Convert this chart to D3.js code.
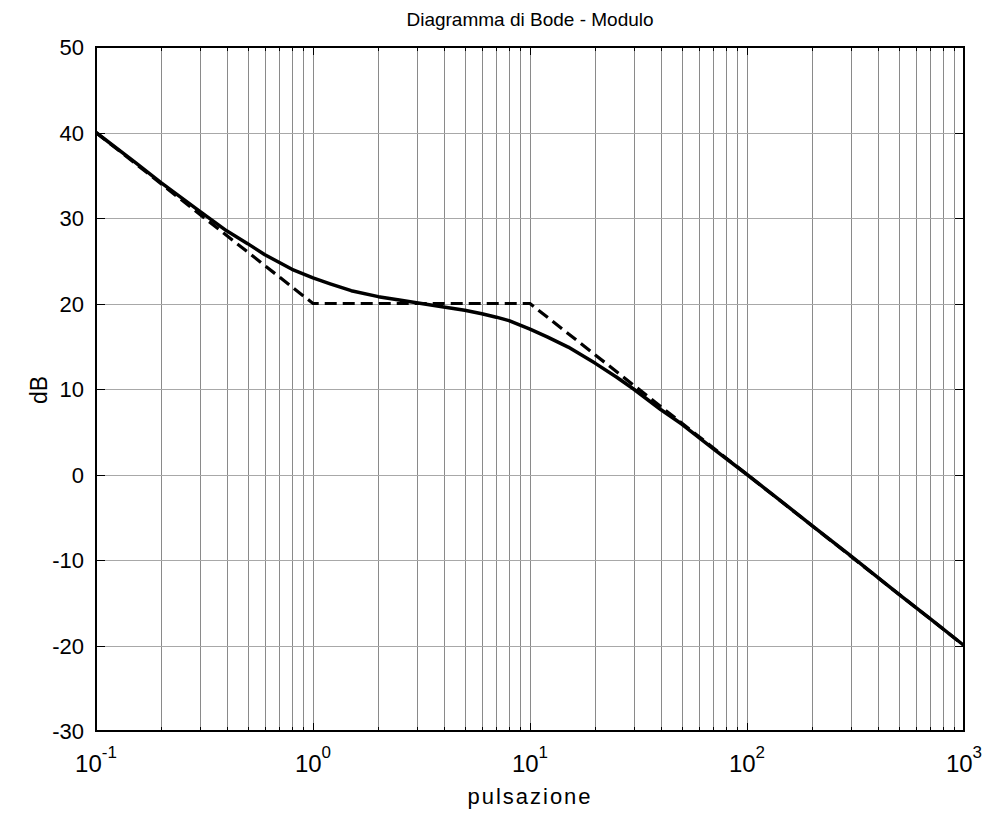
<!DOCTYPE html>
<html>
<head>
<meta charset="utf-8">
<script src="https://cdn.jsdelivr.net/npm/d3@7"></script>
<style>
  body { margin: 0; background: #fff; }
  text { font-family: "Liberation Sans", Arial, sans-serif; fill: #000; }
</style>
</head>
<body>
<svg width="986" height="816"></svg>
<script>
var svg = d3.select("svg");

// pulsazione (rad/s) and modulo (dB)
var omega = [0.1, 0.15, 0.2, 0.3, 0.4, 0.5, 0.6, 0.7, 0.8, 1, 1.2, 1.5, 2, 2.5, 3, 4, 5, 6, 7, 8, 10,
             12, 15, 20, 25, 30, 40, 50, 70, 100, 150, 200, 300, 500, 700, 1000];
var modulo = [40.0, 36.6, 34.1, 30.8, 28.5, 27.0, 25.7, 24.8, 24.0, 23.0, 22.3, 21.5, 20.8, 20.4, 20.1, 19.6, 19.2, 18.8, 18.4, 18.0, 17.0,
              16.1, 14.9, 13.0, 11.4, 10.0, 7.6, 5.9, 3.0, 0.0, -3.5, -6.0, -9.5, -14.0, -16.9, -20.0];

// diagramma asintotico
var asOmega = [0.1, 1, 10, 1000];
var asModulo = [40, 20, 20, -20];

var yTicks = [50, 40, 30, 20, 10, 0, -10, -20, -30];
var xDecades = [-1, 0, 1, 2, 3];

var pLeft = 96, pRight = 964, pTop = 47, pBottom = 731;

var x = d3.scaleLog().domain([0.1, 1000]).range([pLeft, pRight]);
var y = d3.scaleLinear().domain([-30, 50]).range([pBottom, pTop]);

// minor values 2..9 per decade
var minor = [];
xDecades.slice(0, -1).forEach(function(e) {
  for (var k = 2; k <= 9; k++) minor.push(k * Math.pow(10, e));
});
var majors = xDecades.map(function(e) { return Math.pow(10, e); });

var grid = svg.append("g").attr("shape-rendering", "crispEdges");

grid.selectAll(".vg").data(minor.concat(majors)).enter().append("line")
  .attr("x1", function(d) { return Math.round(x(d)) + 0.5; })
  .attr("x2", function(d) { return Math.round(x(d)) + 0.5; })
  .attr("y1", pTop).attr("y2", pBottom)
  .attr("stroke", "#8a8a8a").attr("stroke-width", 1);

grid.selectAll(".hg").data(yTicks).enter().append("line")
  .attr("x1", pLeft).attr("x2", pRight)
  .attr("y1", function(d) { return Math.round(y(d)) + 0.5; })
  .attr("y2", function(d) { return Math.round(y(d)) + 0.5; })
  .attr("stroke", "#a8a8a8").attr("stroke-width", 1);

// ticks
var ticks = svg.append("g").attr("stroke", "#000").attr("shape-rendering", "crispEdges");
ticks.selectAll(".mt").data(minor).enter().append("path")
  .attr("d", function(d) {
    var px = Math.round(x(d)) + 0.5;
    return "M" + px + "," + pTop + "v4M" + px + "," + pTop + "h4" +
           "M" + px + "," + pBottom + "v-4M" + px + "," + pBottom + "h4";
  })
  .attr("stroke-width", 1.5).attr("fill", "none");
ticks.selectAll(".Mt").data(majors).enter().append("path")
  .attr("d", function(d) {
    var px = Math.round(x(d)) + 0.5;
    return "M" + px + "," + pTop + "v8M" + px + "," + pBottom + "v-8";
  })
  .attr("stroke-width", 1.5);
ticks.selectAll(".yt").data(yTicks).enter().append("path")
  .attr("d", function(d) {
    var py = Math.round(y(d)) + 0.5;
    return "M" + pLeft + "," + py + "h9M" + pRight + "," + py + "h-9";
  })
  .attr("stroke-width", 1.5);

// asymptotes and curve
var line = d3.line()
  .x(function(d) { return x(d[0]); })
  .y(function(d) { return y(d[1]); });

svg.append("path")
  .datum(asOmega.map(function(w, i) { return [w, asModulo[i]]; }))
  .attr("d", line)
  .attr("fill", "none").attr("stroke", "#000").attr("stroke-width", 3.2)
  .attr("stroke-dasharray", "12,6");

svg.append("path")
  .datum(omega.map(function(w, i) { return [w, modulo[i]]; }))
  .attr("d", line)
  .attr("fill", "none").attr("stroke", "#000").attr("stroke-width", 3.5)
  .attr("stroke-linejoin", "round");

// box
svg.append("rect")
  .attr("x", pLeft).attr("y", pTop)
  .attr("width", pRight - pLeft).attr("height", pBottom - pTop)
  .attr("fill", "none").attr("stroke", "#000").attr("stroke-width", 2)
  .attr("shape-rendering", "crispEdges");

// y tick labels
svg.selectAll(".yl").data(yTicks).enter().append("text")
  .attr("x", pLeft - 12)
  .attr("y", function(d) { return y(d) + 8; })
  .attr("text-anchor", "end")
  .attr("font-size", 22)
  .text(function(d) { return d; });

// x tick labels 10^e
var xl = svg.selectAll(".xl").data(xDecades).enter().append("text")
  .attr("x", function(d) { return x(Math.pow(10, d)); })
  .attr("y", 772)
  .attr("text-anchor", "middle")
  .attr("font-size", 24);
xl.append("tspan").text("10");
xl.append("tspan").attr("dy", -14).attr("font-size", 17)
  .text(function(d) { return d; });

// titles
svg.append("text").attr("x", 530).attr("y", 26).attr("text-anchor", "middle")
  .attr("font-size", 19).text("Diagramma di Bode - Modulo");
svg.append("text").attr("x", 530).attr("y", 804).attr("text-anchor", "middle")
  .attr("font-size", 22).attr("letter-spacing", 2).text("pulsazione");
svg.append("text").attr("transform", "translate(47,390) rotate(-90)")
  .attr("text-anchor", "middle").attr("font-size", 23).text("dB");
</script>
</body>
</html>
